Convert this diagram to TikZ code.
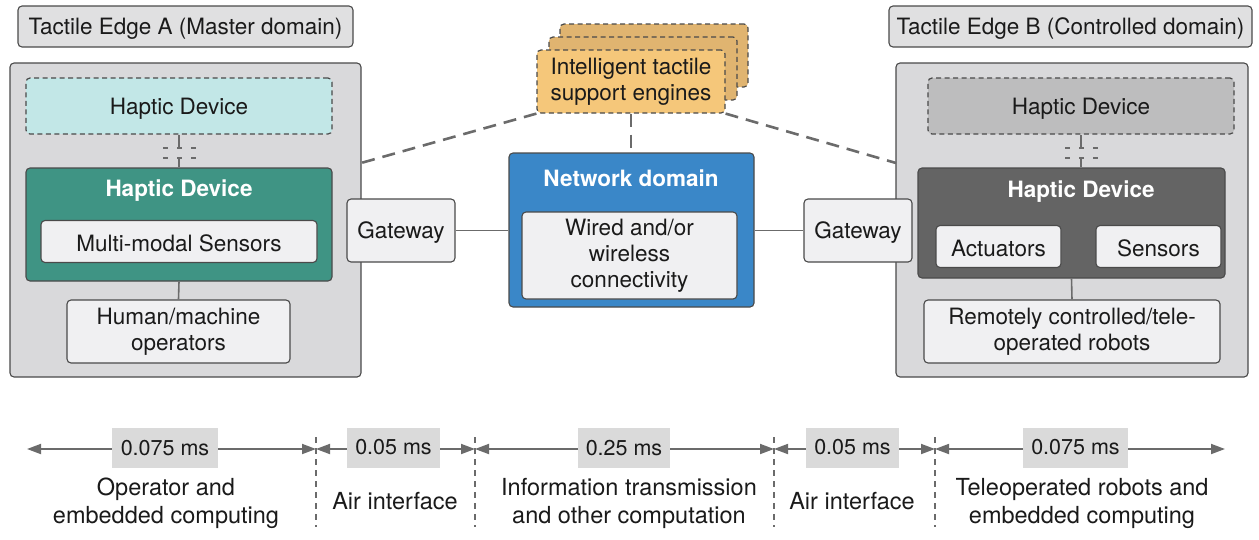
\documentclass[tikz,border=0pt]{standalone}
\usepackage{fontspec}
\setmainfont{TeX Gyre Heros}
\usetikzlibrary{arrows.meta}

\definecolor{edge}{HTML}{4A4A4A}
\definecolor{ink}{HTML}{1A1A1A}
\definecolor{panel}{HTML}{D9D9DB}
\definecolor{tagfill}{HTML}{E0E0E1}
\definecolor{inner}{HTML}{F0F0F2}
\definecolor{cyanfill}{HTML}{C2E7E7}
\definecolor{teal}{HTML}{3F9484}
\definecolor{netblue}{HTML}{3A87C8}
\definecolor{darkdev}{HTML}{646464}
\definecolor{ghost}{HTML}{BDBDBE}
\definecolor{engfront}{HTML}{F5C77A}
\definecolor{engback}{HTML}{E0B470}
\definecolor{wire}{HTML}{6B6B6B}
\definecolor{msfill}{HTML}{DADADA}

\newcommand\diagfont{\fontsize{22.5}{26}\selectfont}
\newcommand\diagbold{\fontsize{22.5}{26}\selectfont\bfseries}
% taller first line so the text sits a little lower in its box
\newcommand\lowerstrut{\rule{0pt}{21pt}}
\newcommand\lowerstrutmulti{\rule{0pt}{25pt}}

\tikzset{
  box/.style={draw=edge, line width=1.1pt, rounded corners=4pt, inner sep=0pt,
    align=center, font=\diagfont, text=ink, execute at begin node=\lowerstrut},
  multibox/.style={box, execute at begin node=\lowerstrutmulti},
  ghostbox/.style={box, line width=1.2pt, dash pattern=on 5pt off 3.5pt},
  boxtitle/.style={font=\diagbold, text=white, inner sep=0pt},
  wireline/.style={draw=wire, line width=1.6pt},
  engline/.style={draw=wire, line width=2.6pt, dash pattern=on 13pt off 8pt},
  plugline/.style={draw=wire, line width=2pt},
  plugdash/.style={draw=wire, line width=2pt, dash pattern=on 5pt off 9pt},
  tl/.style={draw=wire, line width=1.8pt,
    {Triangle[length=14pt,width=10pt]}-{Triangle[length=14pt,width=10pt]}},
  sepline/.style={draw=wire, line width=1.3pt, dash pattern=on 6pt off 5pt},
  ms/.style={fill=msfill, inner sep=0pt, minimum height=40pt,
    font=\fontsize{21.5}{26}\selectfont, text=ink},
  caption/.style={align=center, font=\fontsize{23.5}{28}\selectfont, text=ink, inner sep=0pt}
}

\begin{document}
\begin{tikzpicture}[x=1pt,y=-1pt]
\useasboundingbox (0,0) rectangle (1259,539);

% ---------- Tactile Edge A ----------
\node[box, fill=tagfill, minimum width=335pt, minimum height=41pt] (titleA) at (185.5,26.5) {Tactile Edge A (Master domain)};
\node[box, fill=panel, minimum width=351pt, minimum height=314pt] (outerA) at (185.5,220) {};
\node[ghostbox, fill=cyanfill, minimum width=306pt, minimum height=56pt] (hapA0) at (179,106) {Haptic Device};
\node[box, fill=teal, minimum width=306pt, minimum height=113pt] (hapA) at (179,224.5) {};
\node[boxtitle] (hapAtitle) at (179,191) {Haptic Device};
\node[box, fill=inner, minimum width=276pt, minimum height=42pt] (mms) at (179,241.5) {Multi-modal Sensors};
\node[multibox, fill=inner, minimum width=223pt, minimum height=63pt] (human) at (178.5,331.5) {Human/machine\\operators};
\draw[wireline] (hapA.south) -- (human.north);

% plug between the two haptic devices (A)
\coordinate (plugAt) at (179,148);
\coordinate (plugAb) at (179,158);
\draw[plugline] (hapA0.south) -- (plugAt);
\draw[plugline] (plugAb) -- (hapA.north);
\draw[plugdash] (163,148) -- (197,148);
\draw[plugdash] (163,158) -- (197,158);

% ---------- Tactile Edge B ----------
\node[box, fill=tagfill, minimum width=363pt, minimum height=41pt] (titleB) at (1070.5,26.5) {Tactile Edge B (Controlled domain)};
\node[box, fill=panel, minimum width=352pt, minimum height=314pt] (outerB) at (1072,220) {};
\node[ghostbox, fill=ghost, minimum width=306pt, minimum height=56pt] (hapB0) at (1081,106) {Haptic Device};
\node[box, fill=darkdev, minimum width=307pt, minimum height=110pt] (hapB) at (1071.5,223) {};
\node[boxtitle] (hapBtitle) at (1081,192) {Haptic Device};
\node[box, fill=inner, minimum width=125pt, minimum height=42pt] (act) at (998.5,246.5) {Actuators};
\node[box, fill=inner, minimum width=125pt, minimum height=42pt] (sens) at (1158.5,246.5) {Sensors};
\node[multibox, fill=inner, minimum width=296pt, minimum height=63pt] (robots) at (1072,331.5) {Remotely controlled/tele-\\operated robots};
\draw[wireline] (hapB.south) -- (robots.north);

% plug between the two haptic devices (B)
\coordinate (plugBt) at (1081,148);
\coordinate (plugBb) at (1081,158);
\draw[plugline] (hapB0.south) -- (plugBt);
\draw[plugline] (plugBb) -- (plugBb |- hapB.north);
\draw[plugdash] (1065,148) -- (1099,148);
\draw[plugdash] (1065,158) -- (1099,158);

% ---------- Gateways and network ----------
\node[box, fill=inner, minimum width=108pt, minimum height=63pt] (gwA) at (401,230.5) {Gateway};
\node[box, fill=inner, minimum width=108pt, minimum height=63pt] (gwB) at (858,230.5) {Gateway};
\node[box, fill=netblue, minimum width=245pt, minimum height=154pt] (net) at (631.5,230) {};
\node[boxtitle] (nettitle) at (631,178) {Network domain};
\node[multibox, fill=inner, minimum width=215pt, minimum height=87pt] (wired) at (629.5,255.5) {Wired and/or\\wireless\\connectivity};
\draw[wireline] (gwA.east) -- (gwA.east -| net.west);
\draw[wireline] (gwB.west) -- (gwB.west -| net.east);

% ---------- Intelligent tactile support engines ----------
\node[ghostbox, fill=engback, minimum width=188pt, minimum height=63pt] (eng3) at (654,55.5) {};
\node[ghostbox, fill=engback, minimum width=188pt, minimum height=63pt] (eng2) at (643,68.5) {};
\node[ghostbox, fill=engfront, minimum width=188pt, minimum height=63pt,
      execute at begin node=\lowerstrutmulti] (eng) at (631,81.5) {Intelligent tactile\\support engines};

\coordinate (engA) at (361,163);
\coordinate (engB) at (896,163);
\draw[engline] (eng.south west) -- (engA);
\draw[engline] (eng.south east) -- (engB);
\draw[engline] (eng.south) -- (eng.south |- net.north);

% ---------- Latency timeline ----------
\coordinate (t0) at (27,449);
\coordinate (t1) at (316,449);
\coordinate (t2) at (475,449);
\coordinate (t3) at (774,449);
\coordinate (t4) at (935,449);
\coordinate (t5) at (1225,449);

\foreach \s in {t1,t2,t3,t4}{
  \draw[sepline] ([yshift=12pt]\s) -- ([yshift=-78pt]\s);
}

\draw[tl] (t0) -- (t1);
\draw[tl] (t1) -- (t2);
\draw[tl] (t2) -- (t3);
\draw[tl] (t3) -- (t4);
\draw[tl] (t4) -- (t5);

\node[ms, minimum width=106pt] (ms1) at (165,448) {0.075 ms};
\node[ms, minimum width=93pt] (ms2) at (393.5,447.5) {0.05 ms};
\node[ms, minimum width=92pt] (ms3) at (624,448) {0.25 ms};
\node[ms, minimum width=93pt] (ms4) at (852.5,447.5) {0.05 ms};
\node[ms, minimum width=105pt] (ms5) at (1075.5,447.5) {0.075 ms};

\node[caption] (c1) at (166,503) {Operator and\\embedded computing};
\node[caption] (c2) at (395,501) {Air interface};
\node[caption] (c3) at (629,503) {Information transmission\\and other computation};
\node[caption] (c4) at (852,501) {Air interface};
\node[caption] (c5) at (1082,503) {Teleoperated robots and\\embedded computing};
\end{tikzpicture}
\end{document}
